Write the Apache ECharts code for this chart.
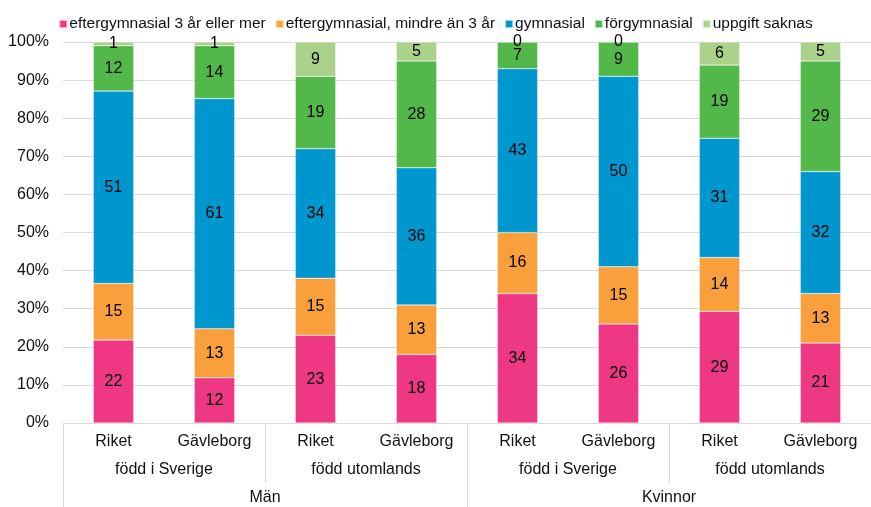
<!DOCTYPE html>
<html>
<head>
<meta charset="utf-8">
<script src="https://cdn.jsdelivr.net/npm/echarts@6/dist/echarts.min.js"></script>
<style>
  html, body { margin: 0; padding: 0; background: #fff; }
  #chart { width: 871px; height: 507px; }
</style>
</head>
<body>
<div id="chart"></div>
<script>
// Category levels of the x axis
const places = ['Riket', 'Gävleborg', 'Riket', 'Gävleborg', 'Riket', 'Gävleborg', 'Riket', 'Gävleborg'];
const birthGroups = ['född i Sverige', 'född utomlands', 'född i Sverige', 'född utomlands'];
const sexes = ['Män', 'Kvinnor'];

// Education level shares (percent) for each bar
const seriesNames = ['eftergymnasial 3 år eller mer', 'eftergymnasial, mindre än 3 år', 'gymnasial', 'förgymnasial', 'uppgift saknas'];
const eftergym3 = [22, 12, 23, 18, 34, 26, 29, 21];
const eftergymMindre = [15, 13, 15, 13, 16, 15, 14, 13];
const gymnasial = [51, 61, 34, 36, 43, 50, 31, 32];
const forgymnasial = [12, 14, 19, 28, 7, 9, 19, 29];
const uppgiftSaknas = [1, 1, 9, 5, 0, 0, 6, 5];

const yTicks = [0, 10, 20, 30, 40, 50, 60, 70, 80, 90, 100];

const seriesValues = [eftergym3, eftergymMindre, gymnasial, forgymnasial, uppgiftSaknas];
const colors = ['#EE3884', '#F9A03C', '#0097CF', '#52B84A', '#ABD18B'];

// Column totals, so every bar is scaled to 100 %
const totals = places.map((_, i) => seriesValues.reduce((s, arr) => s + arr[i], 0));

const font = 'Liberation Sans, Arial, sans-serif';
const gridLine = '#D9D9D9';
const textColor = '#111';

const chart = echarts.init(document.getElementById('chart'), null, { renderer: 'canvas' });

const series = seriesValues.map((vals, k) => ({
  name: seriesNames[k],
  type: 'bar',
  stack: 'total',
  barWidth: '40%',
  xAxisIndex: 0,
  itemStyle: { color: colors[k], borderColor: 'rgba(255,255,255,0.6)', borderWidth: 0.5 },
  label: {
    show: true,
    position: 'inside',
    color: '#000',
    fontFamily: font,
    fontSize: 16,
    formatter: p => String(vals[p.dataIndex])
  },
  data: vals.map((v, i) => v / totals[i] * 100)
}));

chart.setOption({
  animation: false,
  color: colors,
  textStyle: { fontFamily: font },
  legend: {
    top: 11,
    left: 'center',
    icon: 'rect',
    itemWidth: 8,
    itemHeight: 8,
    itemGap: 9,
    textStyle: { fontFamily: font, fontSize: 15.5, color: textColor, padding: [0, 0, 0, -3] },
    data: seriesNames
  },
  grid: { left: 63, right: -8, top: 42, bottom: 84, containLabel: false },
  xAxis: [
    {
      type: 'category',
      data: places,
      position: 'bottom',
      axisLine: { show: true, lineStyle: { color: gridLine, width: 1 } },
      axisTick: { show: false },
      axisLabel: { color: textColor, fontFamily: font, fontSize: 16, margin: 11, interval: 0 }
    },
    {
      type: 'category',
      data: birthGroups,
      position: 'bottom',
      axisLine: { show: false },
      axisTick: { show: true, length: 60, lineStyle: { color: gridLine } },
      axisLabel: { color: textColor, fontFamily: font, fontSize: 16, margin: 39, interval: 0 }
    },
    {
      type: 'category',
      data: sexes,
      position: 'bottom',
      axisLine: { show: false },
      axisTick: { show: true, length: 90, lineStyle: { color: gridLine } },
      axisLabel: { color: textColor, fontFamily: font, fontSize: 16, margin: 67, interval: 0 }
    }
  ],
  yAxis: {
    type: 'value',
    min: yTicks[0],
    max: yTicks[yTicks.length - 1],
    interval: 10,
    axisLine: { show: false },
    axisTick: { show: false },
    splitLine: { lineStyle: { color: gridLine, width: 1 } },
    axisLabel: { color: textColor, fontFamily: font, fontSize: 16, margin: 14, formatter: v => v + '%' }
  },
  series: series
});
</script>
</body>
</html>
